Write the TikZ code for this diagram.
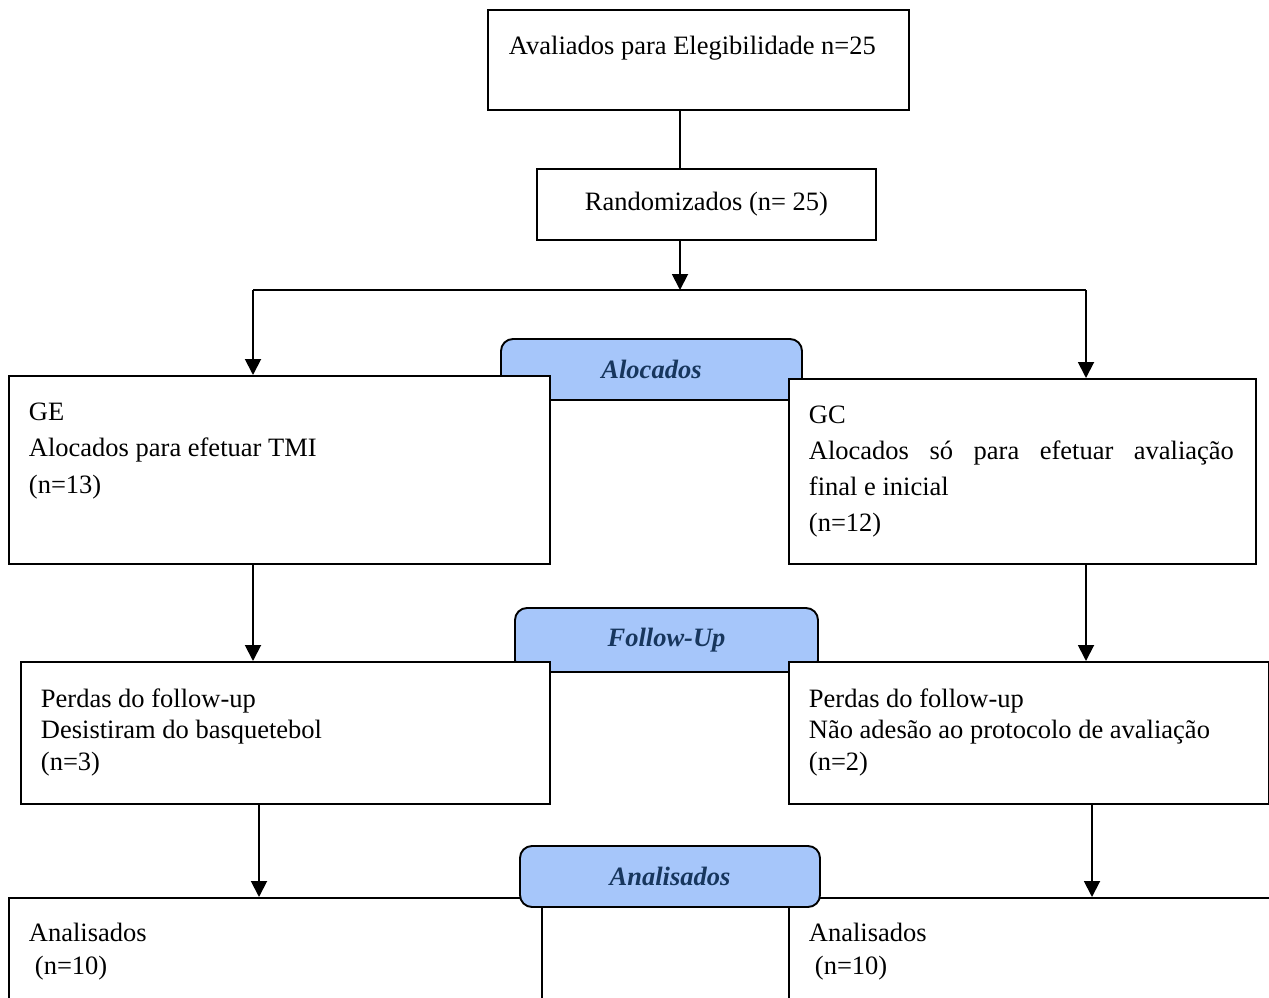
\documentclass[tikz,border=0pt]{standalone}
\usepackage{fontspec}
\setmainfont{Liberation Serif}
\usetikzlibrary{positioning,arrows.meta,calc}

\definecolor{bannerblue}{RGB}{166,198,250}
\definecolor{bannernavy}{RGB}{23,54,93}

\begin{document}
\begin{tikzpicture}[
    x=1pt, y=-1pt,
    line width=1.9pt,
    box/.style={draw, fill=white, inner sep=0pt, anchor=north west, font=\fontsize{26.5}{30}\selectfont},
    banner/.style={draw, fill=bannerblue, rounded corners=12pt, inner sep=0pt, text=bannernavy, font=\fontsize{26.5}{30}\selectfont\bfseries\itshape},
    txt/.style={inner sep=0pt, anchor=base west, text width=470pt, align=flush left, font=\fontsize{26.5}{#1}\selectfont},
    txt/.default=36.5,
    >={Triangle[length=16pt, width=16pt]}
]
    \clip (0,0) rectangle (1269,998);

    % eligibility and randomisation
    \node[box, minimum width=421pt, minimum height=100pt] (elig) at (487,9) {};
    \node[txt] (eligT) at ($(elig.north west)+(21,46)$) {Avaliados para Elegibilidade n=25};
    \node[box, minimum width=339pt, minimum height=71pt] (rand) at (536,168) {Randomizados (n= 25)};

    % allocation
    \node[banner, minimum width=301pt, minimum height=61pt] (alloc) at (651.5,369.5) {Alocados};
    \node[box, minimum width=541pt, minimum height=188pt] (ge) at (8,375) {};
    \node[txt] (geT) at ($(ge.north west)+(20,45)$) {GE\\Alocados para efetuar TMI\\(n=13)};
    \node[box, minimum width=467pt, minimum height=185pt] (gc) at (788,378) {};
    \node[txt=36, text width=425pt, align=justify] (gcT) at ($(gc.north west)+(20,45)$) {GC\\Alocados só para efetuar avaliação\linebreak final e inicial\\(n=12)};

    % follow-up
    \node[banner, minimum width=303pt, minimum height=64pt] (follow) at (666.5,640) {Follow-Up};
    \node[box, minimum width=529pt, minimum height=142pt] (lossE) at (20,661) {};
    \node[txt=31.5] (lossET) at ($(lossE.north west)+(20,46)$) {Perdas do follow-up\\Desistiram do basquetebol\\(n=3)};
    \node[box, minimum width=480pt, minimum height=142pt] (lossC) at (788,661) {};
    \node[txt=31.5] (lossCT) at ($(lossC.north west)+(20,46)$) {Perdas do follow-up\\Não adesão ao protocolo de avaliação\\(n=2)};

    % analysis
    \node[box, minimum width=533pt, minimum height=110pt] (anaE) at (8,897) {};
    \node[txt=33] (anaET) at ($(anaE.north west)+(20,44)$) {Analisados\\\hspace*{6pt}(n=10)};
    \node[box, minimum width=490pt, minimum height=110pt] (anaC) at (788,897) {};
    \node[txt=33] (anaCT) at ($(anaC.north west)+(20,44)$) {Analisados\\\hspace*{6pt}(n=10)};
    \node[banner, minimum width=300pt, minimum height=61pt] (ana) at (670,876.5) {Analisados};

    % connectors
    \coordinate (mid) at (680,290);
    \coordinate (brL) at (253,290);
    \coordinate (brR) at (1086,290);
    \coordinate (colL) at (259,850);
    \coordinate (colR) at (1092,850);
    \draw (elig.south -| mid) -- (rand.north -| mid);
    \draw[->] (rand.south -| mid) -- (mid);
    \draw (brL) -- (brR);
    \draw[->] (brL) -- (brL |- ge.north);
    \draw[->] (brR) -- (brR |- gc.north);
    \draw[->] (ge.south -| brL) -- (lossE.north -| brL);
    \draw[->] (gc.south -| brR) -- (lossC.north -| brR);
    \draw[->] (lossE.south -| colL) -- (anaE.north -| colL);
    \draw[->] (lossC.south -| colR) -- (anaC.north -| colR);
\end{tikzpicture}
\end{document}
